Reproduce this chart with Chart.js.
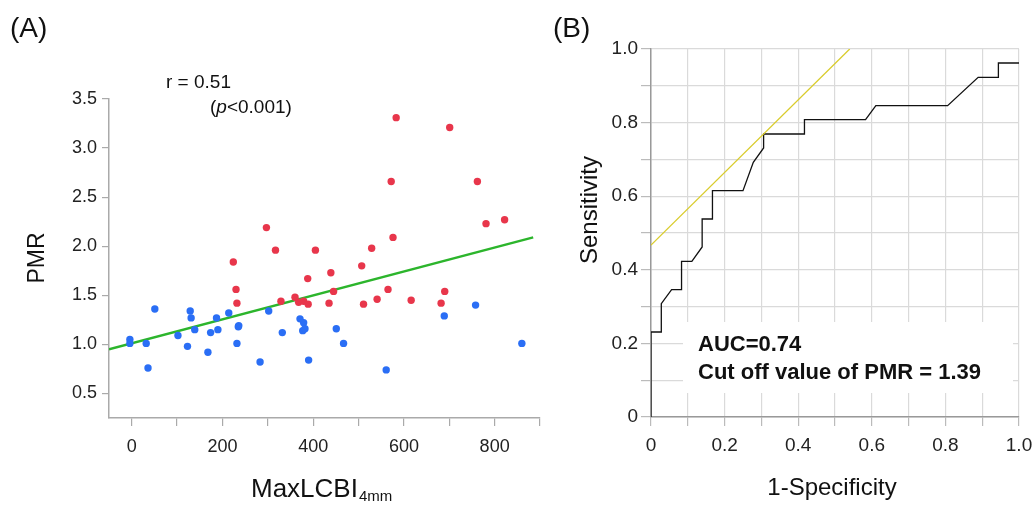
<!DOCTYPE html>
<html>
<head>
<meta charset="utf-8">
<script src="https://cdn.jsdelivr.net/npm/chart.js@4/dist/chart.umd.min.js"></script>
<style>
  html, body { margin: 0; padding: 0; background: #fff; }
  body { width: 1035px; height: 506px; position: relative; overflow: hidden; }
  canvas { position: absolute; top: 0; }
  #chartA { left: 0; }
  #chartB { left: 540px; }
</style>
</head>
<body>
<canvas id="chartA" width="548" height="506"></canvas>
<canvas id="chartB" width="495" height="506"></canvas>
<script>
// panel A: MaxLCBI4mm vs PMR, two groups
const blueX = [-4, -4, 32, 36, 51, 102, 123, 129, 131, 139, 168, 174, 187, 190, 214, 232, 235, 236, 283, 302, 332, 371, 379, 377, 382, 390, 451, 467, 561, 689, 758, 860];
const blueY = [1.05, 1.01, 1.01, 0.76, 1.36, 1.09, 0.98, 1.34, 1.27, 1.15, 0.92, 1.12, 1.27, 1.15, 1.32, 1.01, 1.18, 1.19, 0.82, 1.34, 1.12, 1.26, 1.22, 1.14, 1.16, 0.84, 1.16, 1.01, 0.74, 1.29, 1.40, 1.01];
const redX = [224, 230, 232, 297, 317, 329, 360, 368, 379, 388, 389, 405, 435, 439, 445, 507, 511, 529, 541, 565, 572, 576, 583, 616, 682, 690, 701, 762, 781, 822];
const redY = [1.84, 1.56, 1.42, 2.19, 1.96, 1.44, 1.48, 1.43, 1.44, 1.67, 1.41, 1.96, 1.42, 1.73, 1.54, 1.80, 1.41, 1.98, 1.46, 1.56, 2.66, 2.09, 3.31, 1.45, 1.42, 1.54, 3.21, 2.66, 2.23, 2.27];
const regX = [-50, 885];
const regY = [0.95, 2.09];
const xTicksA = [0, 100, 200, 300, 400, 500, 600, 700, 800, 900];
const yTicksA = [0.5, 1.0, 1.5, 2.0, 2.5, 3.0, 3.5];

// panel B: ROC curve
const rocFpr = [0, 0, 0.028, 0.028, 0.056, 0.083, 0.083, 0.111, 0.139, 0.139, 0.167, 0.167, 0.25, 0.278, 0.306, 0.306, 0.417, 0.417, 0.583, 0.611, 0.806, 0.889, 0.944, 0.944, 1.0];
const rocTpr = [0, 0.231, 0.231, 0.308, 0.346, 0.346, 0.423, 0.423, 0.462, 0.538, 0.538, 0.615, 0.615, 0.692, 0.731, 0.769, 0.769, 0.808, 0.808, 0.846, 0.846, 0.923, 0.923, 0.962, 0.962];
const cutX = [0, 0.54];
const cutY = [0.467, 1.0];

const FONT = '"Liberation Sans", Arial, sans-serif';
const zip = (xs, ys) => xs.map((x, i) => ({ x: x, y: ys[i] }));

const textA = {
  id: 'textA',
  afterDraw(chart) {
    const c = chart.ctx;
    c.save();
    c.fillStyle = '#111';
    c.textBaseline = 'middle';
    c.textAlign = 'left';
    c.font = '28px ' + FONT;
    c.fillText('(A)', 10, 29);
    c.font = '19px ' + FONT;
    c.fillText('r = 0.51', 166, 83);
    let x = 210;
    c.fillText('(', x, 108); x += c.measureText('(').width;
    c.font = 'italic 19px ' + FONT;
    c.fillText('p', x, 108); x += c.measureText('p').width;
    c.font = '19px ' + FONT;
    c.fillText('<0.001)', x, 108);
    // x title with subscript
    c.textBaseline = 'alphabetic';
    c.font = '26px ' + FONT;
    c.fillText('MaxLCBI', 251, 497);
    const w = c.measureText('MaxLCBI').width;
    c.font = '15px ' + FONT;
    c.fillText('4mm', 251 + w + 1, 501);
    // y title
    c.translate(38, 258);
    c.rotate(-Math.PI / 2);
    c.textAlign = 'center';
    c.textBaseline = 'middle';
    c.font = '23px ' + FONT;
    c.fillText('PMR', 0, 0);
    c.restore();
  }
};

new Chart(document.getElementById('chartA'), {
  type: 'scatter',
  data: {
    datasets: [
      { data: zip(blueX, blueY), backgroundColor: '#2a6ef5', borderWidth: 0, pointRadius: 3.7 },
      { data: zip(redX, redY), backgroundColor: '#e8364b', borderWidth: 0, pointRadius: 3.7 },
      { type: 'line', data: zip(regX, regY), borderColor: '#2cb52c', borderWidth: 2.5, pointRadius: 0, fill: false }
    ]
  },
  options: {
    responsive: false,
    animation: false,
    layout: { padding: { left: 0, top: 99, right: 8, bottom: 48 } },
    plugins: { legend: { display: false }, tooltip: { enabled: false } },
    scales: {
      x: {
        type: 'linear', min: -50, max: 900,
        afterBuildTicks: s => { s.ticks = xTicksA.map(v => ({ value: v })); },
        afterFit: s => { s.height = 40; s.paddingLeft = 0; s.paddingRight = 0; },
        grid: { drawOnChartArea: false, tickLength: 8, color: '#aaa', lineWidth: 1.2 },
        border: { color: '#aaa', width: 1.5 },
        ticks: {
          padding: 10, color: '#222', font: { family: FONT, size: 18 },
          callback: v => (v % 200 === 0 ? String(v) : '')
        }
      },
      y: {
        type: 'linear', min: 0.25, max: 3.5,
        afterBuildTicks: s => { s.ticks = yTicksA.map(v => ({ value: v })); },
        afterFit: s => { s.width = 109; },
        grid: { drawOnChartArea: false, tickLength: 7, color: '#aaa', lineWidth: 1.2 },
        border: { color: '#aaa', width: 1.5 },
        ticks: {
          padding: 5, color: '#222', font: { family: FONT, size: 18 },
          callback: v => v.toFixed(1)
        }
      }
    }
  },
  plugins: [textA]
});

const textB = {
  id: 'textB',
  afterDraw(chart) {
    const c = chart.ctx;
    c.save();
    c.fillStyle = '#fff';
    c.fillRect(143, 322, 330, 71);
    c.fillStyle = '#111';
    c.textBaseline = 'middle';
    c.textAlign = 'left';
    c.font = '28px ' + FONT;
    c.fillText('(B)', 13, 29);
    c.font = 'bold 22px ' + FONT;
    c.fillText('AUC=0.74', 158, 345);
    c.fillText('Cut off value of PMR = 1.39', 158, 373);
    c.textAlign = 'center';
    c.font = '24px ' + FONT;
    c.fillText('1-Specificity', 292, 488);
    c.translate(50, 210);
    c.rotate(-Math.PI / 2);
    c.font = '24px ' + FONT;
    c.fillText('Sensitivity', 0, 0);
    c.restore();
  }
};

const labB = v => {
  const k = Math.round(v * 10);
  if (k % 2) return '';
  return k === 0 ? '0' : (k / 10).toFixed(1);
};

new Chart(document.getElementById('chartB'), {
  type: 'scatter',
  data: {
    datasets: [
      { type: 'line', data: zip(cutX, cutY), borderColor: '#d9cc2c', borderWidth: 1.3, pointRadius: 0, fill: false },
      { type: 'line', data: zip(rocFpr, rocTpr), borderColor: '#111', borderWidth: 1.3, pointRadius: 0, fill: false }
    ]
  },
  options: {
    responsive: false,
    animation: false,
    layout: { padding: { left: 0, top: 49, right: 16, bottom: 49 } },
    plugins: { legend: { display: false }, tooltip: { enabled: false } },
    scales: {
      x: {
        type: 'linear', min: 0, max: 1,
        afterFit: s => { s.height = 40; s.paddingLeft = 0; s.paddingRight = 0; },
        grid: { color: '#dadada', tickColor: '#bbb', tickLength: 9, lineWidth: 1.2 },
        border: { color: '#999', width: 1.5 },
        ticks: { stepSize: 0.1, padding: 8, color: '#222', font: { family: FONT, size: 19 }, callback: labB, autoSkip: false, maxRotation: 0 }
      },
      y: {
        type: 'linear', min: 0, max: 1,
        afterFit: s => { s.width = 111; s.paddingTop = 0; s.paddingBottom = 0; },
        grid: { color: '#dadada', tickColor: '#bbb', tickLength: 10, lineWidth: 1.2 },
        border: { color: '#999', width: 1.5 },
        ticks: { stepSize: 0.1, padding: 3, color: '#222', font: { family: FONT, size: 19 }, callback: labB, autoSkip: false }
      }
    }
  },
  plugins: [textB]
});
</script>
</body>
</html>
